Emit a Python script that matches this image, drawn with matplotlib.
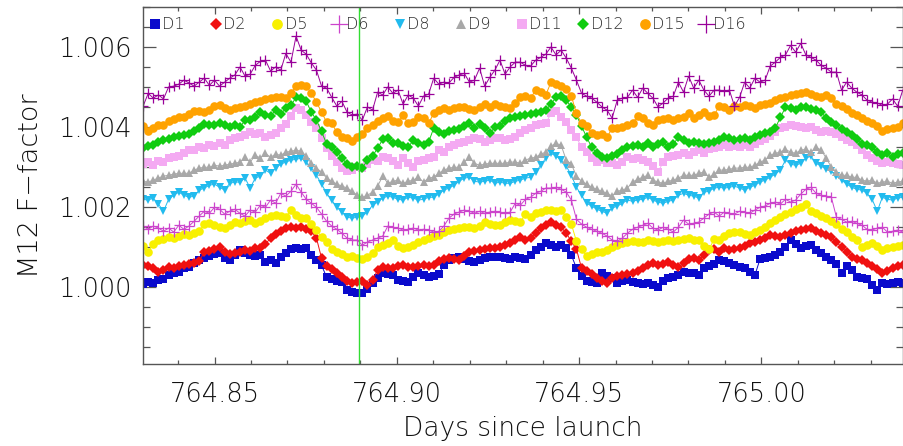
import numpy as np
import matplotlib
matplotlib.use("Agg")
import matplotlib.pyplot as plt
from matplotlib.ticker import MultipleLocator, FormatStrFormatter

plt.rcParams["font.family"] = ["DejaVu Sans"]
plt.rcParams["font.weight"] = "light"

# F-factor per detector, stored as (F - 1) in units of 1e-5
d1 = [7, 12, 9, 17, 19, 29, 34, 37, 47, 49,
      59, 67, 72, 77, 82, 84, 72, 67, 79, 92,
      84, 79, 77, 79, 62, 67, 59, 74, 84, 94,
      97, 94, 97, 79, 67, 54, 24, 19, 14, 12,
      -8, -13, -15, -15, -5, 9, 22, 34, 32, 29,
      17, 14, 12, 24, 34, 29, 24, 27, 32, 54,
      67, 72, 74, 69, 64, 62, 67, 72, 74, 74,
      74, 72, 69, 74, 72, 69, 79, 92, 99, 109,
      104, 99, 104, 97, 79, 47, 27, 14, 12, 9,
      34, 27, 22, 9, 14, 17, 12, 9, 7, 9,
      4, -1, 14, 22, 24, 29, 37, 34, 34, 29,
      47, 52, 57, 67, 64, 59, 54, 49, 47, 37,
      29, 69, 72, 74, 79, 87, 99, 117, 107, 97,
      102, 104, 92, 84, 74, 67, 57, 34, 52, 42,
      24, 22, 19, 4, -8, 9, 7, 9, 12, 9]

d2 = [54, 52, 47, 37, 42, 49, 47, 52, 54, 57,
      59, 64, 87, 89, 94, 99, 87, 82, 84, 87,
      92, 89, 97, 97, 107, 122, 132, 139, 147, 149,
      147, 149, 144, 139, 122, 72, 52, 44, 34, 24,
      14, 9, 12, 14, 4, 17, 42, 49, 47, 47,
      52, 54, 49, 49, 52, 54, 52, 54, 64, 69,
      72, 69, 67, 77, 87, 89, 92, 94, 97, 97,
      99, 104, 109, 117, 124, 117, 122, 134, 147, 154,
      162, 154, 149, 134, 114, 94, 47, 39, 32, 22,
      14, 9, 22, 27, 29, 32, 34, 39, 47, 54,
      59, 54, 57, 62, 54, 49, 59, 69, 72, 67,
      79, 92, 94, 87, 97, 92, 94, 97, 102, 109,
      112, 117, 122, 129, 127, 124, 129, 134, 139, 142,
      144, 147, 139, 134, 129, 124, 112, 99, 87, 74,
      69, 67, 59, 52, 44, 34, 39, 47, 52, 54]

d5 = [102, 87, 107, 117, 119, 124, 122, 127, 132, 129,
      134, 139, 157, 159, 154, 149, 147, 154, 162, 159,
      164, 167, 159, 164, 172, 177, 179, 177, 174, 192,
      179, 172, 172, 157, 142, 124, 112, 94, 87, 82,
      74, 77, 72, 69, 74, 84, 99, 104, 109, 117,
      102, 97, 99, 104, 112, 117, 122, 127, 129, 137,
      142, 144, 147, 149, 149, 147, 152, 162, 157, 154,
      154, 162, 167, 164, 162, 182, 174, 184, 187, 192,
      192, 189, 192, 174, 157, 114, 94, 77, 82, 87,
      87, 92, 99, 104, 109, 112, 114, 112, 112, 117,
      114, 112, 114, 117, 114, 117, 119, 122, 117, 117,
      102, 94, 119, 117, 127, 134, 137, 137, 132, 129,
      137, 142, 149, 159, 167, 174, 182, 187, 194, 199,
      207, 189, 184, 177, 172, 164, 157, 144, 137, 124,
      117, 99, 104, 109, 102, 92, 97, 99, 102, 104]

d6 = [152, 144, 152, 147, 139, 147, 137, 154, 144, 152,
      164, 177, 189, 184, 199, 194, 182, 189, 194, 184,
      177, 192, 187, 204, 199, 217, 209, 234, 227, 239,
      257, 237, 219, 209, 199, 182, 164, 152, 144, 134,
      122, 117, 117, 104, 112, 117, 122, 127, 152, 149,
      147, 142, 144, 147, 142, 144, 142, 137, 139, 152,
      172, 182, 187, 192, 189, 184, 189, 184, 187, 189,
      187, 184, 187, 209, 204, 219, 224, 234, 239, 247,
      247, 249, 244, 237, 217, 169, 157, 149, 144, 139,
      134, 127, 117, 114, 122, 134, 144, 149, 154, 159,
      147, 142, 149, 144, 137, 149, 167, 157, 159, 162,
      172, 182, 187, 177, 187, 184, 182, 189, 187, 184,
      192, 199, 202, 209, 212, 207, 219, 212, 217, 232,
      244, 249, 234, 229, 227, 224, 174, 169, 162, 164,
      159, 154, 144, 142, 147, 149, 137, 139, 142, 137]

d8 = [219, 217, 222, 207, 189, 219, 229, 237, 229, 224,
      227, 242, 247, 254, 257, 249, 242, 259, 262, 262,
      272, 247, 272, 277, 292, 284, 297, 307, 312, 317,
      319, 322, 312, 297, 279, 257, 234, 217, 199, 187,
      174, 172, 174, 177, 187, 204, 212, 222, 227, 224,
      219, 217, 224, 222, 217, 219, 224, 224, 232, 242,
      247, 254, 264, 272, 274, 264, 262, 264, 267, 259,
      262, 259, 259, 264, 267, 272, 274, 287, 304, 322,
      334, 327, 317, 302, 279, 249, 229, 209, 202, 194,
      189, 184, 197, 202, 209, 217, 214, 217, 219, 224,
      217, 212, 209, 214, 217, 229, 234, 229, 227, 222,
      237, 239, 247, 249, 247, 249, 252, 247, 242, 249,
      254, 262, 267, 274, 282, 292, 317, 307, 304, 309,
      322, 327, 309, 302, 294, 289, 277, 267, 257, 249,
      244, 242, 234, 219, 189, 224, 219, 217, 222, 224]

d9 = [264, 262, 267, 272, 277, 279, 282, 284, 284, 284,
      292, 297, 299, 299, 304, 302, 304, 307, 309, 312,
      324, 312, 329, 322, 334, 324, 332, 329, 337, 339,
      342, 339, 327, 309, 297, 287, 272, 264, 257, 252,
      247, 239, 229, 224, 229, 237, 252, 277, 259, 264,
      267, 259, 264, 267, 274, 262, 272, 274, 284, 292,
      297, 299, 299, 312, 324, 309, 304, 307, 309, 309,
      309, 309, 312, 312, 309, 317, 322, 324, 332, 337,
      352, 359, 354, 317, 307, 277, 264, 257, 249, 244,
      239, 234, 227, 239, 242, 247, 262, 269, 274, 279,
      267, 262, 259, 264, 267, 272, 279, 279, 279, 284,
      287, 274, 282, 292, 292, 294, 297, 297, 299, 299,
      304, 312, 317, 329, 334, 337, 344, 337, 334, 342,
      344, 337, 349, 342, 322, 299, 287, 279, 279, 274,
      274, 267, 264, 267, 259, 262, 264, 259, 262, 264]

d11 = [307, 312, 304, 314, 312, 322, 324, 327, 334, 342,
       342, 349, 347, 354, 352, 359, 354, 367, 372, 374,
       379, 387, 382, 384, 374, 379, 384, 397, 407, 427,
       447, 442, 429, 412, 397, 372, 347, 327, 312, 297,
       289, 292, 299, 297, 307, 317, 314, 324, 322, 314,
       304, 322, 309, 299, 314, 317, 322, 324, 342, 337,
       349, 354, 359, 362, 367, 372, 369, 362, 367, 372,
       372, 367, 369, 374, 384, 392, 397, 404, 407, 409,
       434, 439, 424, 412, 392, 374, 349, 337, 322, 312,
       317, 309, 309, 304, 312, 324, 319, 322, 317, 312,
       302, 287, 312, 324, 327, 329, 334, 329, 337, 342,
       334, 344, 347, 349, 354, 349, 352, 349, 354, 349,
       357, 364, 369, 377, 387, 397, 399, 404, 402, 399,
       397, 399, 392, 387, 389, 387, 382, 374, 367, 362,
       354, 342, 329, 322, 314, 309, 312, 309, 307, 304]

d12 = [347, 352, 354, 362, 367, 369, 374, 377, 379, 382,
       389, 397, 407, 404, 404, 409, 404, 399, 404, 399,
       417, 417, 424, 437, 429, 427, 442, 432, 447, 454,
       474, 472, 464, 437, 417, 389, 357, 349, 337, 322,
       307, 299, 302, 297, 317, 327, 347, 369, 372, 359,
       359, 352, 349, 367, 359, 354, 362, 397, 387, 382,
       389, 392, 394, 402, 409, 397, 407, 397, 384, 399,
       402, 414, 422, 424, 427, 429, 432, 434, 437, 442,
       457, 474, 477, 467, 449, 429, 402, 374, 349, 334,
       324, 322, 327, 332, 342, 349, 352, 354, 349, 359,
       349, 357, 362, 349, 357, 374, 367, 359, 362, 359,
       357, 359, 362, 367, 374, 372, 367, 369, 372, 367,
       374, 379, 384, 387, 397, 424, 449, 447, 442, 449,
       449, 444, 442, 437, 422, 412, 404, 394, 387, 379,
       369, 357, 354, 349, 337, 329, 334, 324, 332, 334]

d15 = [402, 389, 397, 404, 404, 414, 419, 424, 424, 432,
       439, 439, 437, 442, 452, 454, 447, 442, 447, 449,
       452, 457, 462, 464, 470, 472, 474, 474, 472, 484,
       502, 504, 502, 484, 462, 437, 412, 409, 387, 374,
       372, 364, 374, 382, 397, 404, 414, 422, 427, 414,
       412, 429, 409, 412, 424, 422, 409, 434, 442, 447,
       442, 447, 449, 449, 444, 442, 449, 457, 449, 457,
       452, 449, 447, 459, 474, 477, 472, 492, 487, 480,
       512, 507, 502, 494, 477, 434, 409, 402, 384, 379,
       382, 374, 397, 397, 399, 404, 409, 427, 422, 409,
       404, 417, 419, 422, 417, 422, 424, 434, 422, 429,
       437, 427, 429, 452, 449, 442, 452, 449, 454, 452,
       447, 454, 457, 459, 467, 472, 474, 480, 482, 484,
       487, 482, 477, 474, 480, 472, 457, 452, 444, 434,
       429, 422, 414, 409, 402, 389, 394, 397, 399, 409]

d16 = [452, 484, 472, 480, 470, 500, 502, 507, 517, 510,
       502, 512, 522, 504, 517, 502, 512, 522, 530, 550,
       527, 532, 554, 564, 567, 540, 550, 542, 584, 562,
       627, 592, 582, 560, 542, 502, 497, 474, 452, 464,
       437, 430, 432, 417, 450, 442, 487, 480, 500, 484,
       492, 457, 480, 472, 452, 477, 482, 522, 507, 512,
       510, 524, 530, 534, 512, 517, 547, 502, 524, 542,
       567, 532, 550, 562, 562, 554, 552, 567, 574, 582,
       600, 580, 592, 572, 547, 517, 484, 477, 472, 462,
       450, 442, 422, 467, 472, 474, 492, 474, 497, 484,
       472, 450, 460, 472, 477, 512, 487, 527, 497, 517,
       492, 477, 492, 492, 490, 492, 452, 474, 512, 497,
       522, 512, 517, 552, 562, 574, 580, 604, 587, 609,
       580, 574, 567, 554, 547, 537, 537, 492, 512, 497,
       487, 480, 467, 462, 460, 454, 457, 470, 452, 492]

detectors = ["D1", "D2", "D5", "D6", "D8", "D9", "D11", "D12", "D15", "D16"]
series = [d1, d2, d5, d6, d8, d9, d11, d12, d15, d16]

# sample times, one every ~2 minutes
t_first = 764.8304
t_last = 765.0388
marker_time = 764.8895

styles = {
    "D1":  dict(marker="s", color="#0a0acc", ms=5.6),
    "D2":  dict(marker="D", color="#f01010", ms=4.6),
    "D5":  dict(marker="o", color="#f8f000", ms=6.2),
    "D6":  dict(marker="+", color="#cc44cc", ms=7.0),
    "D8":  dict(marker="v", color="#22bbee", ms=6.2),
    "D9":  dict(marker="^", color="#a8a8a8", ms=6.2),
    "D11": dict(marker="s", color="#f4aaf2", ms=5.6),
    "D12": dict(marker="D", color="#10cc10", ms=4.6),
    "D15": dict(marker="o", color="#ffa200", ms=6.2),
    "D16": dict(marker="+", color="#990099", ms=7.0),
}

fig = plt.figure(figsize=(9.04, 4.46), dpi=100)
ax = fig.add_axes([0.1579, 0.1839, 0.8411, 0.8004])

for name, vals in zip(detectors, series):
    st = styles[name]
    y = 1.0 + np.array(vals) * 1e-5
    t = np.linspace(t_first, t_last, len(y))
    mew = 0.9 if st["marker"] == "+" else 0.0
    ax.plot(t, y, color=st["color"], lw=0.7, marker=st["marker"],
            ms=st["ms"], mew=mew, mfc=st["color"], mec=st["color"])

ax.axvline(marker_time, color="#33dd33", lw=1.0)

# legend row along the top of the frame
for k, name in enumerate(detectors):
    st = styles[name]
    xm = 0.0161 + k * 0.0805
    lms = st["ms"] * (1.75 if st["marker"] == "+" else 1.25)
    mew = 0.9 if st["marker"] == "+" else 0.0
    ax.plot([xm], [0.952], transform=ax.transAxes, clip_on=False,
            marker=st["marker"], ms=lms, mew=mew, color=st["color"],
            mfc=st["color"], mec=st["color"], ls="none")
    ax.text(xm + 0.0095, 0.952, name, transform=ax.transAxes,
            ha="left", va="center", fontsize=11.5, color="#333333")

ax.set_xlim(764.8303, 765.0389)
ax.set_ylim(0.99807, 1.00700)

ax.xaxis.set_major_locator(MultipleLocator(0.05))
ax.xaxis.set_minor_locator(MultipleLocator(0.01))
ax.xaxis.set_major_formatter(FormatStrFormatter("%.2f"))
ax.yaxis.set_major_locator(MultipleLocator(0.002))
ax.yaxis.set_minor_locator(MultipleLocator(0.0005))
ax.yaxis.set_major_formatter(FormatStrFormatter("%.3f"))

ax.tick_params(which="both", direction="in", top=True, right=True,
               colors="#555555", labelcolor="#111111", width=0.9,
               labelsize=18.5)
ax.tick_params(axis="x", which="major", length=5, pad=13)
ax.tick_params(axis="x", which="minor", length=3)
ax.tick_params(axis="y", which="major", length=9.4, pad=8)
ax.tick_params(axis="y", which="minor", length=5)
for sp in ax.spines.values():
    sp.set_color("#555555")
    sp.set_linewidth(1.0)

fig.text(0.5785, 0.040, "Days since launch", ha="center", va="center",
         fontsize=19, color="#111111")
fig.text(0.034, 0.584, "M12 F\u2212factor", ha="center", va="center",
         rotation=90, fontsize=19.5, color="#111111")

fig.savefig("out.png", dpi=100)
